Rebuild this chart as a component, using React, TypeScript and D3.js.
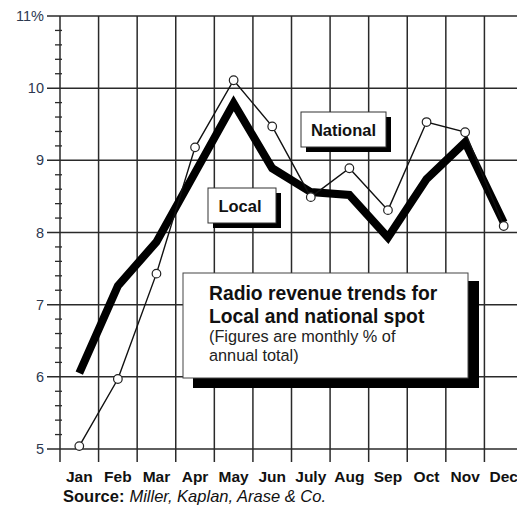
import React from "react";
import * as d3 from "d3";

const months = ["Jan", "Feb", "Mar", "Apr", "May", "Jun", "July", "Aug", "Sep", "Oct", "Nov", "Dec"];
const localValues = [6.05, 7.26, 7.87, 8.83, 9.79, 8.89, 8.56, 8.52, 7.93, 8.74, 9.25, 8.14];
const nationalValues = [5.04, 5.97, 7.43, 9.18, 10.11, 9.47, 8.49, 8.89, 8.31, 9.53, 9.39, 8.09];
const yTicks = [5, 6, 7, 8, 9, 10, 11];
const titleLines = ["Radio revenue trends for", "Local and national spot"];
const subtitleLines = ["(Figures are monthly % of", "annual total)"];
const sourceLabel = "Source:";
const sourceText = "Miller, Kaplan, Arase & Co.";

const W = 517;
const H = 508;
const FONT = "'Liberation Sans', Arial, Helvetica, sans-serif";

export default function App() {
  const x = d3.scaleBand<string>().domain(months).range([60, 523]).padding(0);
  const y = d3.scaleLinear().domain([5, 11]).range([449, 16]);
  const cx = (m: string) => (x(m) as number) + x.bandwidth() / 2;

  const minor = d3.range(50, 110, 2).map((v) => v / 10).filter((v) => Math.abs(v - Math.round(v)) > 0.01);

  const lineGen = d3
    .line<number>()
    .x((_, i) => cx(months[i]))
    .y((d) => y(d));

  const gridColor = "#2a2a2a";

  return (
    <svg width={W} height={H} style={{ position: "absolute", left: 0, top: 0, background: "#fff" }}>
      <rect x={0} y={0} width={W} height={H} fill="#fff" />
      {yTicks.map((t) => (
        <line key={"h" + t} x1={47} x2={W} y1={y(t)} y2={y(t)} stroke={gridColor} strokeWidth={1.5} />
      ))}
      {months.map((m) => (
        <line
          key={"v" + m}
          x1={x(m) as number}
          x2={x(m) as number}
          y1={y(11)}
          y2={462}
          stroke={gridColor}
          strokeWidth={1.5}
        />
      ))}
      {minor.map((v) => (
        <line key={"m" + v} x1={55} x2={62} y1={y(v)} y2={y(v)} stroke={gridColor} strokeWidth={1.3} />
      ))}
      {yTicks.map((t) => (
        <text
          key={"yl" + t}
          x={44}
          y={y(t) + 5}
          textAnchor="end"
          fontFamily={FONT}
          fontSize={14.5}
          fill="#2c3850"
        >
          {t === 11 ? "11%" : String(t)}
        </text>
      ))}
      {months.map((m) => (
        <text
          key={"ml" + m}
          x={cx(m)}
          y={482}
          textAnchor="middle"
          fontFamily={FONT}
          fontSize={15.5}
          fontWeight="bold"
          fill="#111"
        >
          {m}
        </text>
      ))}
      <text x={63} y={502} fontFamily={FONT} fontSize={16.5} fill="#111">
        <tspan fontWeight="bold">{sourceLabel}</tspan>
        <tspan fontStyle="italic" dx={5}>
          {sourceText}
        </tspan>
      </text>

      <path d={lineGen(localValues) || ""} fill="none" stroke="#000" strokeWidth={8} strokeLinejoin="miter" strokeMiterlimit={10} />
      <path d={lineGen(nationalValues) || ""} fill="none" stroke="#111" strokeWidth={1.4} />
      {nationalValues.map((v, i) => (
        <circle key={"c" + i} cx={cx(months[i])} cy={y(v)} r={4.3} fill="#fff" stroke="#222" strokeWidth={1.2} />
      ))}

      <rect x={306} y={117} width={85} height={35} fill="#000" />
      <rect x={301} y={112} width={85} height={35} fill="#fff" stroke="#333" strokeWidth={1} />
      <text x={343.5} y={135.5} textAnchor="middle" fontFamily={FONT} fontSize={16.5} fontWeight="bold" fill="#111">
        National
      </text>

      <rect x={213} y={193} width={68} height={35} fill="#000" />
      <rect x={208} y={188} width={68} height={35} fill="#fff" stroke="#333" strokeWidth={1} />
      <text x={240} y={211.5} textAnchor="middle" fontFamily={FONT} fontSize={16.5} fontWeight="bold" fill="#111">
        Local
      </text>

      <rect x={193} y={281} width={286} height={107} fill="#000" />
      <rect x={183} y={273} width={285} height={105} fill="#fff" stroke="#444" strokeWidth={1} />
      {titleLines.map((t, i) => (
        <text
          key={"t" + i}
          x={209}
          y={300 + i * 23}
          fontFamily={FONT}
          fontSize={19.3}
          fontWeight="bold"
          fill="#111"
        >
          {t}
        </text>
      ))}
      {subtitleLines.map((t, i) => (
        <text key={"s" + i} x={209} y={342 + i * 19} fontFamily={FONT} fontSize={16.3} fill="#222">
          {t}
        </text>
      ))}
    </svg>
  );
}
